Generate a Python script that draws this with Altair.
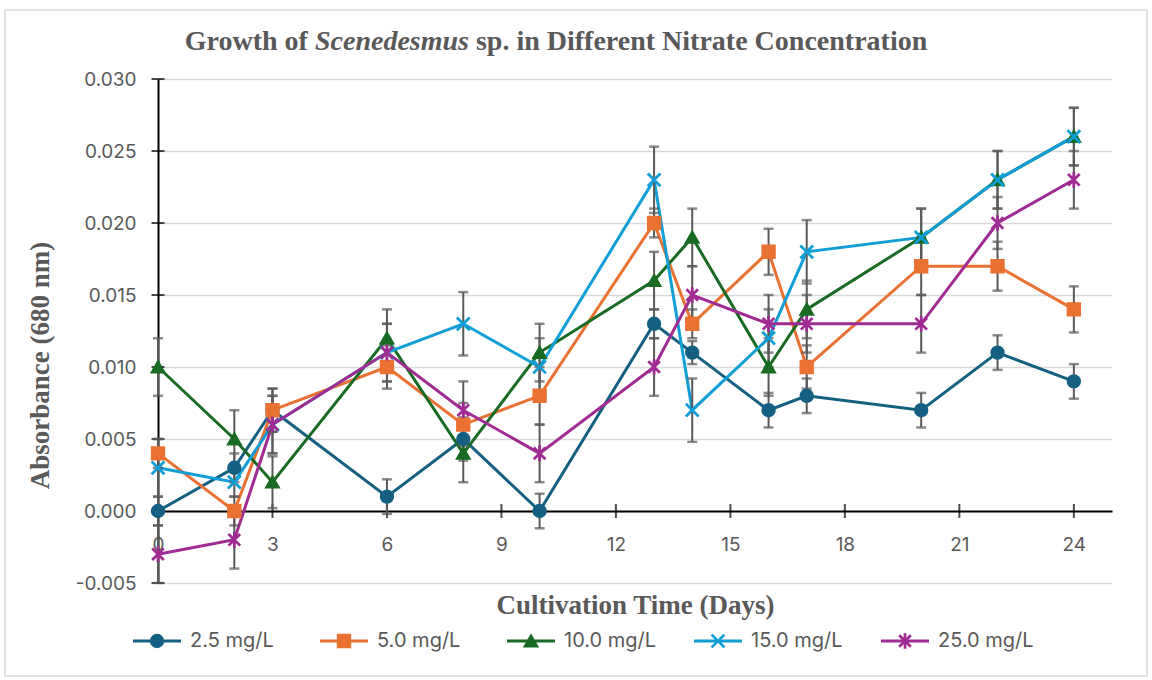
import altair as alt
import pandas as pd

# ---------------- data ----------------
days = [0, 2, 3, 6, 8, 10, 13, 14, 16, 17, 20, 22, 24]
series = ["2.5 mg/L", "5.0 mg/L", "10.0 mg/L", "15.0 mg/L", "25.0 mg/L"]
colors = ["#156082", "#E97132", "#196B24", "#0F9ED5", "#A02B93"]

abs_2_5 = [0.000, 0.003, 0.007, 0.001, 0.005, 0.000, 0.013, 0.011, 0.007, 0.008, 0.007, 0.011, 0.009]
abs_5_0 = [0.004, 0.000, 0.007, 0.010, 0.006, 0.008, 0.020, 0.013, 0.018, 0.010, 0.017, 0.017, 0.014]
abs_10_0 = [0.010, 0.005, 0.002, 0.012, 0.004, 0.011, 0.016, 0.019, 0.010, 0.014, 0.019, 0.023, 0.026]
abs_15_0 = [0.003, 0.002, 0.006, 0.011, 0.013, 0.010, 0.023, 0.007, 0.012, 0.018, 0.019, 0.023, 0.026]
abs_25_0 = [-0.003, -0.002, 0.006, 0.011, 0.007, 0.004, 0.010, 0.015, 0.013, 0.013, 0.013, 0.020, 0.023]

err_2_5 = [0.0010, 0.0010, 0.0015, 0.0012, 0.0015, 0.0012, 0.0010, 0.0008, 0.0012, 0.0012, 0.0012, 0.0012, 0.0012]
err_5_0 = [0.0010, 0.0010, 0.0015, 0.0015, 0.0015, 0.0020, 0.0010, 0.0010, 0.0016, 0.0015, 0.0020, 0.0017, 0.0016]
err_10_0 = [0.0020, 0.0020, 0.0018, 0.0020, 0.0020, 0.0020, 0.0020, 0.0020, 0.0020, 0.0020, 0.0020, 0.0020, 0.0020]
err_15_0 = [0.0020, 0.0010, 0.0020, 0.0020, 0.0022, 0.0020, 0.0023, 0.0022, 0.0020, 0.0022, 0.0020, 0.0020, 0.0020]
err_25_0 = [0.0020, 0.0020, 0.0020, 0.0020, 0.0020, 0.0020, 0.0020, 0.0020, 0.0020, 0.0020, 0.0020, 0.0018, 0.0020]

x_ticks = [0, 3, 6, 9, 12, 15, 18, 21, 24]
y_ticks = [-0.005, 0.000, 0.005, 0.010, 0.015, 0.020, 0.025, 0.030]

title_a = "Growth of"
title_b = "Scenedesmus"
title_c = "sp. in Different Nitrate Concentration"
x_title = "Cultivation Time (Days)"
y_title = "Absorbance (680 nm)"

# ---------------- table ----------------
rows = []
for s, vals, errs in zip(series,
                         [abs_2_5, abs_5_0, abs_10_0, abs_15_0, abs_25_0],
                         [err_2_5, err_5_0, err_10_0, err_15_0, err_25_0]):
    for d, v, e in zip(days, vals, errs):
        rows.append({"series": s, "day": d, "value": v, "lo": v - e, "hi": v + e})
df = pd.DataFrame(rows)

# ---------------- styling ----------------
W, H = 954, 504
LABEL_FONT = "Inter"
SERIF = "Liberation Serif"
GRAY = "#595959"
MSIZE = 135

X_PATH = "M-1.1,-1.1L1.1,1.1M-1.1,1.1L1.1,-1.1"
AST_PATH = "M-1,-1L1,1M-1,1L1,-1M0,-1.35L0,1.35"
shapes = ["circle", "square", "triangle-up", X_PATH, AST_PATH]

x_scale = alt.Scale(domain=[0, 25], nice=False, zero=False)
y_scale = alt.Scale(domain=[-0.005, 0.030], nice=False, zero=False)

x_axis = alt.Axis(
    values=x_ticks, offset=-72, format="d", labelFlush=False,
    domainColor="black", domainWidth=2, ticks=False, grid=False,
    labelFont=LABEL_FONT, labelFontSize=19, labelColor=GRAY, labelPadding=24,
    title=x_title, titleFont=SERIF, titleFontSize=27, titleFontWeight="bold",
    titleColor=GRAY, titleX=W / 2, titleY=94, titleAlign="center", titleBaseline="middle",
)
y_axis = alt.Axis(
    values=y_ticks, domainColor="black", domainWidth=2, ticks=False,
    gridColor="#d9d9d9", gridWidth=1.5,
    labelExpr="datum.value < 0 ? '-' + format(-datum.value, '.3f') : format(datum.value, '.3f')",
    labelFont=LABEL_FONT, labelFontSize=19, labelColor=GRAY, labelPadding=22,
    title=y_title, titleFont=SERIF, titleFontSize=27, titleFontWeight="bold",
    titleColor=GRAY, titleAngle=270, titleX=-118, titleY=286,
    titleAlign="center", titleBaseline="middle",
)

X = alt.X("day:Q", scale=x_scale, axis=x_axis)
def Y(field):
    return alt.Y(f"{field}:Q", scale=y_scale, axis=y_axis)

color = alt.Color("series:N", scale=alt.Scale(domain=series, range=colors), legend=None)
stroke = alt.Stroke("series:N", scale=alt.Scale(domain=series, range=colors), legend=None)
shape = alt.Shape("series:N", scale=alt.Scale(domain=series, range=shapes), legend=None)

# axis crossing ticks
ytick_df = pd.DataFrame({"day": [0] * len(y_ticks), "value": y_ticks})
xtick_df = pd.DataFrame({"day": x_ticks, "value": [0.0] * len(x_ticks)})
ytick = alt.Chart(ytick_df).mark_tick(orient="horizontal", size=13, thickness=2, color="black").encode(x=X, y=Y("value"))
xtick = alt.Chart(xtick_df).mark_tick(orient="vertical", size=14, thickness=2, color="black").encode(x=X, y=Y("value"))

base = alt.Chart(df)
lines = base.mark_line(strokeWidth=3).encode(x=X, y=Y("value"), color=color, detail="series:N", order="day:Q")
ebar = base.mark_rule(color=GRAY, strokeWidth=2).encode(x=X, y=Y("lo"), y2="hi:Q")
cap_lo = base.mark_tick(orient="horizontal", size=10, thickness=2.5, color=GRAY).encode(x=X, y=Y("lo"))
cap_hi = base.mark_tick(orient="horizontal", size=10, thickness=2.5, color=GRAY).encode(x=X, y=Y("hi"))
points = base.mark_point(filled=True, size=MSIZE, strokeWidth=2.75, opacity=1).encode(
    x=X, y=Y("value"), color=color, stroke=stroke, shape=shape)

main = alt.layer(ytick, xtick, lines, ebar, cap_lo, cap_hi, points)

# ---------------- legend + titles ----------------
leg_df = pd.DataFrame({"series": series})
LX = alt.X("series:N", scale=alt.Scale(type="point", domain=series, range=[-1, 747], padding=0), axis=None)
LY = alt.value(641 - 79)
leg_line = alt.Chart(leg_df).mark_point(shape="M-1,0L1,0", size=2304, filled=False, strokeWidth=3, opacity=1).encode(
    x=LX, y=LY, color=color)
leg_mark = alt.Chart(leg_df).mark_point(filled=True, size=MSIZE, strokeWidth=2.75, opacity=1).encode(
    x=LX, y=LY, color=color, stroke=stroke, shape=shape)
leg_text = alt.Chart(leg_df).mark_text(align="left", baseline="middle", dx=33, fontSize=20,
                                        font=LABEL_FONT, color=GRAY).encode(x=LX, y=LY, text="series:N")

fs = 28
cx = 556 - 158
total = 26.55 * fs
start = cx - total / 2
ty = 42 - 79
t_a = alt.Chart(pd.DataFrame({"t": [title_a]})).mark_text(
    align="right", baseline="middle", font=SERIF, fontSize=fs, fontWeight="bold", color=GRAY
).encode(x=alt.value(start + 4.416 * fs), y=alt.value(ty), text="t:N")
t_b = alt.Chart(pd.DataFrame({"t": [title_b]})).mark_text(
    align="left", baseline="middle", font=SERIF, fontSize=fs, fontWeight="bold", fontStyle="italic", color=GRAY
).encode(x=alt.value(start + 4.666 * fs), y=alt.value(ty), text="t:N")
t_c = alt.Chart(pd.DataFrame({"t": [title_c]})).mark_text(
    align="left", baseline="middle", font=SERIF, fontSize=fs, fontWeight="bold", color=GRAY
).encode(x=alt.value(start + (4.666 + 5.5 + 0.25) * fs), y=alt.value(ty), text="t:N")

border = alt.Chart(pd.DataFrame({"b": [1]})).mark_rect(fillOpacity=0, stroke="#d9d9d9", strokeWidth=1.5).encode(
    x=alt.value(5 - 158), x2=alt.value(1147 - 158), y=alt.value(10 - 79), y2=alt.value(676 - 79))

overlay = alt.layer(border, t_a, t_b, t_c, leg_line, leg_mark, leg_text)

chart = alt.layer(main, overlay).resolve_scale(x="independent").properties(
    width=W, height=H,
    autosize=alt.AutoSizeParams(type="none"),
    padding={"left": 158, "top": 79, "right": 40, "bottom": 97},
    background="white",
).configure_view(stroke=None)

chart.save("out.html", embed_options={"renderer": "svg", "actions": False})
